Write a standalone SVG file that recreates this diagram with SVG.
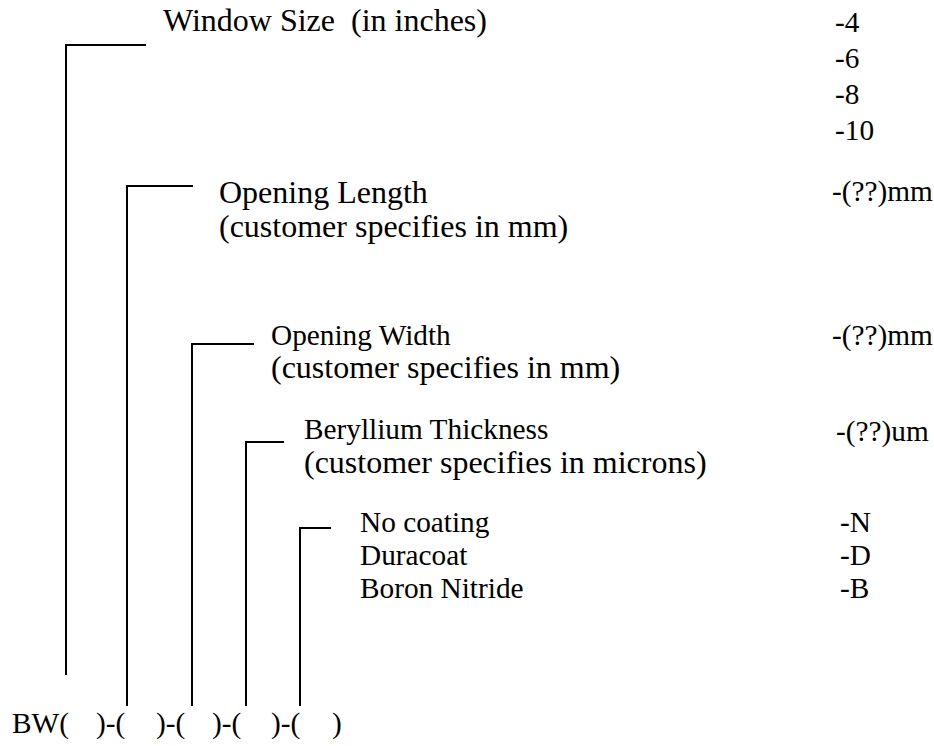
<svg xmlns="http://www.w3.org/2000/svg" width="934" height="746" viewBox="0 0 934 746">
<style>
text { font-family: "Liberation Serif", "Times New Roman", serif; fill: #000; }
.big { font-size: 32px; }
.mid { font-size: 29.3px; }
.ln { fill: none; stroke: #000; stroke-width: 2; }
</style>
<rect width="934" height="746" fill="#fff"/>
<g id="connectors">
<polyline class="ln" points="146,45 66,45 66,675"/>
<polyline class="ln" points="193,186 127,186 127,706"/>
<polyline class="ln" points="254,344 192,344 192,706"/>
<polyline class="ln" points="284,442 246,442 246,706"/>
<polyline class="ln" points="331,528 300,528 300,706"/>
</g>
<g id="window-size">
<text class="big" x="163" y="31" xml:space="preserve">Window Size  (in inches)</text>
<text class="mid" x="835" y="32">-4</text>
<text class="mid" x="835" y="68">-6</text>
<text class="mid" x="835" y="104">-8</text>
<text class="mid" x="835" y="140">-10</text>
</g>
<g id="opening-length">
<text class="big" x="219" y="203">Opening Length</text>
<text class="big" x="219" y="237">(customer specifies in mm)</text>
<text class="mid" x="832" y="201">-(??)mm</text>
</g>
<g id="opening-width">
<text class="mid" x="271" y="345">Opening Width</text>
<text class="big" x="271" y="378">(customer specifies in mm)</text>
<text class="mid" x="832" y="345">-(??)mm</text>
</g>
<g id="beryllium-thickness">
<text class="mid" x="304" y="439">Beryllium Thickness</text>
<text class="big" x="304" y="473">(customer specifies in microns)</text>
<text class="mid" x="836" y="441">-(??)um</text>
</g>
<g id="coating">
<text class="mid" x="360" y="532">No coating</text>
<text class="mid" x="360" y="565">Duracoat</text>
<text class="mid" x="360" y="598">Boron Nitride</text>
<text class="mid" x="840" y="532">-N</text>
<text class="mid" x="840" y="565">-D</text>
<text class="mid" x="840" y="598">-B</text>
</g>
<g id="part-number">
<text class="mid" y="733"><tspan x="12">BW(</tspan><tspan x="96">)-(</tspan><tspan x="156">)-(</tspan><tspan x="212">)-(</tspan><tspan x="271">)-(</tspan><tspan x="332">)</tspan></text>
</g>
</svg>
